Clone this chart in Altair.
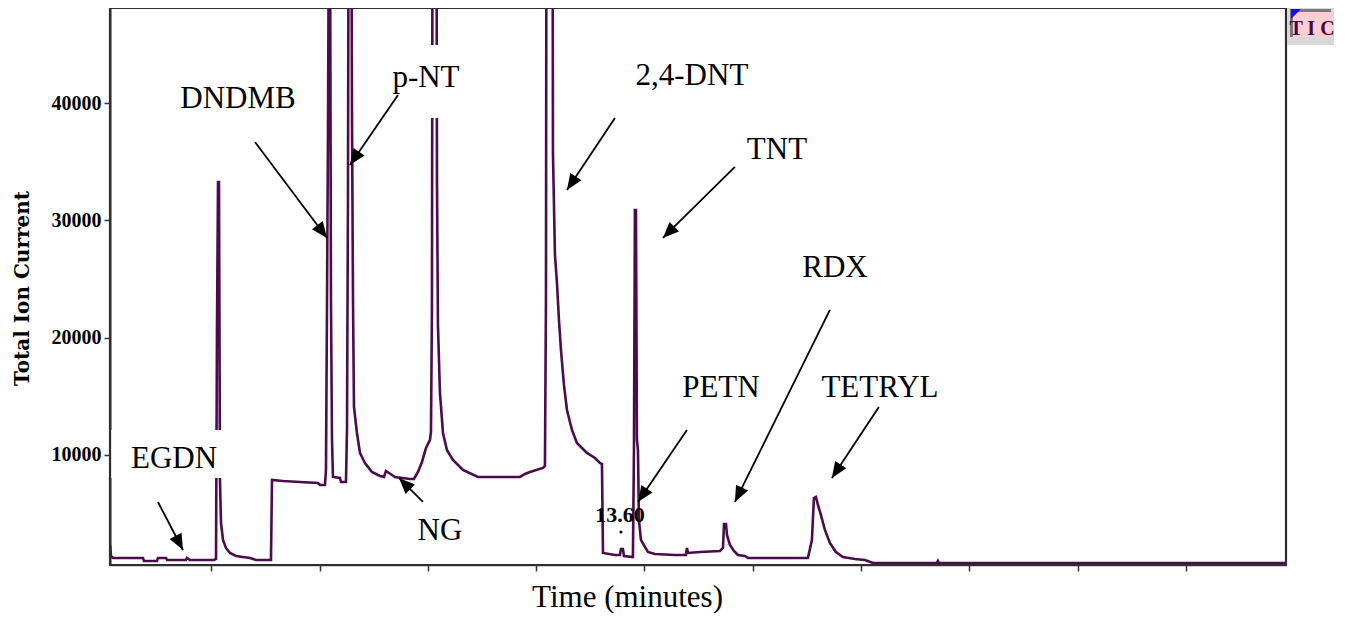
import math
import altair as alt
import pandas as pd

# ---------------- data ----------------
time_min = [4.130, 4.148, 4.185, 4.739, 4.758, 4.998, 5.016, 5.164, 5.183, 5.533,
            5.552, 5.607, 6.051, 6.088, 6.106, 6.125, 6.143, 6.161, 6.180, 6.217,
            6.272, 6.346, 6.457, 6.715, 6.826, 7.103, 7.122, 7.325, 7.639, 7.971,
            8.008, 8.100, 8.119, 8.137, 8.156, 8.174, 8.193, 8.211, 8.230, 8.248,
            8.377, 8.396, 8.488, 8.507, 8.525, 8.544, 8.581, 8.599, 8.618, 8.636,
            8.691, 8.747, 8.839, 8.968, 9.116, 9.190, 9.227, 9.282, 9.393, 9.670,
            9.744, 9.818, 9.892, 9.966, 10.040, 10.058, 10.076, 10.095, 10.150, 10.169,
            10.187, 10.224, 10.280, 10.353, 10.464, 10.649, 10.926, 11.702, 11.794, 11.886,
            12.126, 12.163, 12.182, 12.200, 12.293, 12.311, 12.348, 12.385, 12.422, 12.459,
            12.514, 12.570, 12.662, 12.754, 12.939, 13.087, 13.179, 13.216, 13.235, 13.456,
            13.548, 13.567, 13.604, 13.622, 13.788, 13.807, 13.825, 13.844, 13.862, 13.881,
            13.899, 13.936, 14.010, 14.065, 14.195, 14.564, 14.767, 14.786, 14.805, 15.026,
            15.396, 15.451, 15.470, 15.507, 15.525, 15.580, 15.654, 15.728, 15.857, 15.912,
            17.020, 17.094, 17.131, 17.168, 17.205, 17.260, 17.334, 17.426, 17.537, 17.666,
            17.888, 18.073, 18.221, 19.403, 19.422, 19.440, 25.737, 25.847]

tic = [2327, 1390, 1219, 1219, 963, 963, 1219, 1219, 1049, 1049,
       1219, 1049, 1049, 1134, 20827, 33273, 33273, 7869, 4203, 2754,
       2072, 1645, 1390, 1219, 1049, 1049, 7869, 7783, 7698, 7613,
       7442, 7442, 8721, 22191, 37451, 58000, 58000, 23213, 11279, 8124,
       8039, 7698, 7698, 12131, 31739, 72000, 72000, 39241, 23213, 14092,
       11875, 10170, 9318, 8551, 8210, 8124, 8636, 8466, 8124, 7954,
       7954, 8551, 9403, 10597, 11279, 11961, 22191, 85000, 85000, 33444,
       21082, 15285, 11875, 10426, 9574, 8721, 8124, 8124, 8380, 8551,
       8892, 9062, 23213, 95000, 95000, 35745, 27050, 24663, 21509, 18951,
       15967, 13836, 12131, 11023, 10170, 9744, 9318, 9232, 1645, 1475,
       1475, 1986, 1986, 1390, 1304, 10426, 30886, 30886, 11279, 10426,
       4459, 2754, 2157, 1731, 1560, 1475, 1475, 2072, 1645, 1731,
       1816, 2072, 4118, 4118, 3180, 2327, 1816, 1475, 1390, 1219,
       1219, 2754, 6334, 6419, 5737, 4885, 3606, 2498, 1731, 1304,
       1134, 1049, 793, 793, 963, 793, 793, 793]

assert len(time_min) == len(tic)

peak_names = ["DNDMB", "p-NT", "2,4-DNT", "TNT", "RDX", "PETN", "TETRYL", "EGDN", "NG"]
label_t = [6.494, 9.966, 14.878, 16.448, 17.519, 15.413, 18.350, 5.312, 10.224]
label_i = [39539, 41329, 41500, 35234, 25174, 14944, 14944, 8849, 2711]

arrow_t_from = [6.808, 9.449, 13.456, 15.672, 17.426, 14.786, 18.331, 5.016, 9.910]
arrow_i_from = [36683, 40690, 38729, 34552, 22361, 12131, 14092, 5993, 5993]
arrow_t_to = [8.137, 8.562, 12.570, 14.342, 15.672, 13.881, 17.463, 5.478, 9.467]
arrow_i_to = [28499, 34722, 32591, 28499, 5993, 5993, 8039, 1901, 8039]

# white label boxes that hide part of the trace (p-NT box, EGDN box)
box_t_from = [9.21, 4.15]
box_t_to = [11.26, 7.27]
box_i_from = [38729, 8039]
box_i_to = [44952, 12131]

rt_text = ["13.60"]
rt_t = [13.548]
rt_i = [4288]
rt_dot_t = [13.567]
rt_dot_i = [3436]

x_ticks = [6, 8, 10, 12, 14, 16, 18, 20, 22, 24]
y_ticks = [10000, 20000, 30000, 40000]

# ---------------- layout / style ----------------
X_DOMAIN = [4.13, 25.85]
Y_DOMAIN = [620, 48100]
W, H = 1176, 557
PURPLE = "#4b0c4b"
SERIF = "Liberation Serif"

xs = alt.Scale(domain=X_DOMAIN, nice=False, zero=False)
ys = alt.Scale(domain=Y_DOMAIN, nice=False, zero=False)

x_axis = alt.Axis(values=x_ticks, labels=False, grid=False, tickSize=6, tickColor="#333",
                  tickWidth=1.5, domainColor="#444", domainWidth=1.5,
                  title="Time (minutes)", titleFont=SERIF, titleFontSize=31,
                  titleFontWeight="normal", titleColor="black", titleX=517, titleY=41,
                  titleAlign="center", titleBaseline="alphabetic")
y_axis = alt.Axis(values=y_ticks, format="d", grid=False, tickSize=6, tickColor="#333",
                  tickWidth=1.5, domainColor="#333", domainWidth=2,
                  labelFont=SERIF, labelFontWeight="bold", labelFontSize=20,
                  labelColor="black", labelPadding=3,
                  title="Total Ion Current", titleFont="DejaVu Serif", titleFontSize=20,
                  titleFontWeight="bold", titleColor="black", titleAngle=270,
                  titleX=-88, titleY=280, titleAlign="center", titleBaseline="middle")

trace = pd.DataFrame({"t": time_min, "tic": tic})

line = alt.Chart(trace).mark_line(color=PURPLE, strokeWidth=2.6, clip=True).encode(
    x=alt.X("t:Q", scale=xs, axis=x_axis),
    y=alt.Y("tic:Q", scale=ys, axis=y_axis),
)

boxes = pd.DataFrame({"t": box_t_from, "t2": box_t_to, "tic": box_i_from, "tic2": box_i_to})
masks = alt.Chart(boxes).mark_rect(color="white", opacity=1).encode(
    x=alt.X("t:Q", scale=xs, axis=x_axis), x2="t2:Q",
    y=alt.Y("tic:Q", scale=ys, axis=y_axis), y2="tic2:Q",
)

labels = pd.DataFrame({"t": label_t, "tic": label_i, "name": peak_names})
label_text = alt.Chart(labels).mark_text(font=SERIF, fontSize=31, align="center",
                                         baseline="alphabetic", color="black").encode(
    x=alt.X("t:Q", scale=xs, axis=x_axis),
    y=alt.Y("tic:Q", scale=ys, axis=y_axis),
    text="name:N",
)

px_per_t = W / (X_DOMAIN[1] - X_DOMAIN[0])
px_per_i = H / (Y_DOMAIN[1] - Y_DOMAIN[0])
angles = []
for a0, b0, a1, b1 in zip(arrow_t_from, arrow_i_from, arrow_t_to, arrow_i_to):
    dx = (a1 - a0) * px_per_t
    up = (b1 - b0) * px_per_i
    angles.append(math.degrees(math.atan2(dx, up)) % 360)

arrows = pd.DataFrame({"t": arrow_t_from, "tic": arrow_i_from,
                       "t2": arrow_t_to, "tic2": arrow_i_to, "ang": angles})
shafts = alt.Chart(arrows).mark_rule(color="black", strokeWidth=1.8).encode(
    x=alt.X("t:Q", scale=xs, axis=x_axis), x2="t2:Q",
    y=alt.Y("tic:Q", scale=ys, axis=y_axis), y2="tic2:Q",
)
heads = alt.Chart(arrows).mark_point(
    shape="M0,0 L-0.42,1 L0.42,1 Z", filled=True, color="black", opacity=1,
    size=1024, strokeWidth=0,
).encode(
    x=alt.X("t2:Q", scale=xs, axis=x_axis),
    y=alt.Y("tic2:Q", scale=ys, axis=y_axis),
    angle=alt.Angle("ang:Q", scale=None),
)

rt = pd.DataFrame({"t": rt_t, "tic": rt_i, "label": rt_text})
rt_label = alt.Chart(rt).mark_text(font=SERIF, fontSize=22, fontWeight="bold",
                                   align="center", baseline="alphabetic",
                                   color="black").encode(
    x=alt.X("t:Q", scale=xs, axis=x_axis),
    y=alt.Y("tic:Q", scale=ys, axis=y_axis),
    text="label:N",
)
rtd = pd.DataFrame({"t": rt_dot_t, "tic": rt_dot_i})
rt_dot = alt.Chart(rtd).mark_point(filled=True, color="black", size=10, opacity=1).encode(
    x=alt.X("t:Q", scale=xs, axis=x_axis),
    y=alt.Y("tic:Q", scale=ys, axis=y_axis),
)

one = pd.DataFrame({"k": [0]})

# plot frame (top and right borders)
frame = alt.Chart(one).mark_rect(filled=False, stroke="#2e2e2e", strokeWidth=2.2).encode(
    x=alt.value(0), x2=alt.value(W), y=alt.value(0), y2=alt.value(H))

# "TIC" badge in the top-right corner
tic_outer = alt.Chart(one).mark_rect(color="#d8d8d8").encode(
    x=alt.value(W + 1), x2=alt.value(W + 48), y=alt.value(0), y2=alt.value(37))
tic_inner = alt.Chart(one).mark_rect(color="#ffcdd2").encode(
    x=alt.value(W + 4), x2=alt.value(W + 45), y=alt.value(1), y2=alt.value(29))
tic_top = alt.Chart(one).mark_rect(color="#7a7a7a").encode(
    x=alt.value(W + 4), x2=alt.value(W + 45), y=alt.value(1), y2=alt.value(4))
tic_left = alt.Chart(one).mark_rect(color="#7a7a7a").encode(
    x=alt.value(W + 4), x2=alt.value(W + 7), y=alt.value(1), y2=alt.value(29))
tic_tri = alt.Chart(one).mark_point(shape="M-1,-1 L1,-1 L-1,1 Z", filled=True,
                                    color="#1010ff", opacity=1, size=100,
                                    strokeWidth=0).encode(
    x=alt.value(W + 10), y=alt.value(6))
tic_txt = alt.Chart(one).mark_text(text="T I C", font=SERIF, fontSize=20, fontWeight="bold",
                                   color="#4a0a40", align="center",
                                   baseline="alphabetic").encode(
    x=alt.value(W + 26), y=alt.value(27))

chart = alt.layer(
    line, masks, shafts, heads, label_text, rt_label, rt_dot, frame,
    tic_outer, tic_inner, tic_top, tic_left, tic_tri, tic_txt,
).properties(
    width=W, height=H,
    autosize=alt.AutoSizeParams(type="none"),
    padding={"left": 102, "top": 0, "right": 52, "bottom": 48},
).configure_view(
    stroke="#2e2e2e", strokeWidth=2,
).configure(background="white")

chart.save("out.html", embed_options={"renderer": "svg", "actions": False})
